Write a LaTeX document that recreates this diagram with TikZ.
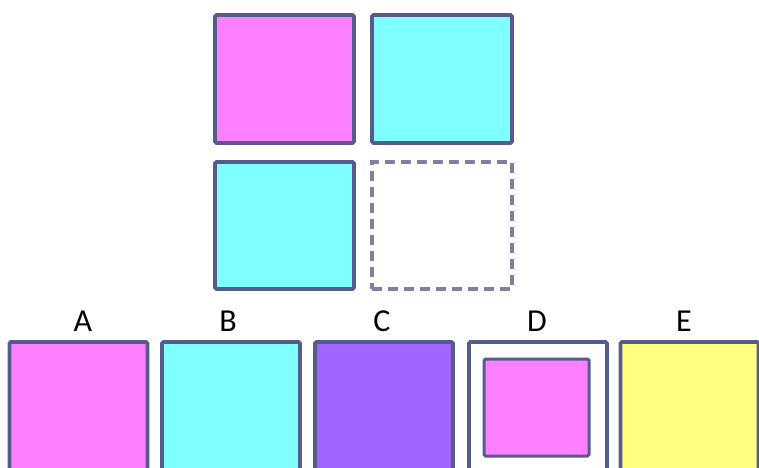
\documentclass[tikz,border=0pt]{standalone}
\usepackage{fontspec}
\setmainfont{Carlito}
\definecolor{edge}{HTML}{555C8C}
\definecolor{dashedge}{HTML}{7F80A0}
\definecolor{pink}{HTML}{FF80FF}
\definecolor{aqua}{HTML}{80FFFF}
\definecolor{violet}{HTML}{A066FF}
\definecolor{lemon}{HTML}{FFFF80}
\begin{document}
\begin{tikzpicture}[x=1pt,y=-1pt,
  tile/.style={draw=edge, line width=3.6pt, rounded corners=1.5pt, inner sep=0pt,
    minimum width=#1, minimum height=#1},
  tile/.default=138pt,
  blank/.style={draw=dashedge, line width=3.2pt, dash pattern=on 10pt off 6pt,
    inner sep=0pt, minimum width=140pt, minimum height=127pt},
  lbl/.style={font=\fontsize{32}{32}\selectfont, text=black, inner sep=0pt, anchor=base}]
\useasboundingbox (0,0) rectangle (759,467);
% question grid
\node[tile, fill=pink, minimum width=139pt, minimum height=128pt] (q1) at (284.5,79) {};
\node[tile, fill=aqua, minimum width=140pt, minimum height=128pt] (q2) at (442,79) {};
\node[tile, fill=aqua, minimum width=139pt, minimum height=127pt] (q3) at (284.5,225.5) {};
\node[blank] (q4) at (442,225.5) {};
% answer options
\node[tile, fill=pink] (a) at (78.5,411) {};
\node[tile, fill=aqua] (b) at (231,411) {};
\node[tile, fill=violet] (c) at (384,411) {};
\node[tile, fill=white] (d) at (538,411) {};
\node[tile, fill=pink, line width=3pt, minimum width=105pt, minimum height=97pt] (dinner) at (536.5,407.5) {};
\node[tile, fill=lemon] (e) at (689.5,411) {};
% option letters
\node[lbl] (la) at (83,331) {A};
\node[lbl] (lb) at (228,331) {B};
\node[lbl] (lc) at (382,331) {C};
\node[lbl] (ld) at (537,331) {D};
\node[lbl] (le) at (684,331) {E};
\end{tikzpicture}
\end{document}
